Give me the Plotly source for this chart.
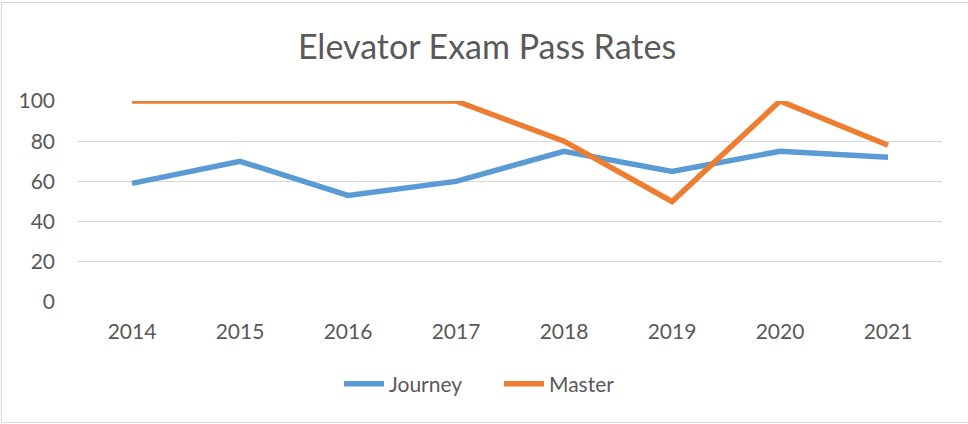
import plotly.graph_objects as go

years = ["2014", "2015", "2016", "2017", "2018", "2019", "2020", "2021"]
journey = [59, 70, 53, 60, 75, 65, 75, 72]
master = [100, 100, 100, 100, 80, 50, 100, 78]
y_ticks = [0, 20, 40, 60, 80, 100]

W, H = 968, 424
L, R, T, B = 78, 26, 101, 122
FONT = "Lato, Calibri, Carlito, sans-serif"
GRAY = "#595959"

fig = go.Figure()
fig.add_trace(go.Scatter(x=years, y=journey, name="Journey", mode="lines",
                         line=dict(color="#5B9BD5", width=5.5),
                         cliponaxis=False))
fig.add_trace(go.Scatter(x=years, y=master, name="Master", mode="lines",
                         line=dict(color="#ED7D31", width=5.5),
                         cliponaxis=False))

pw = W - L - R
ph = H - T - B
def px(x):
    return (x - L) / pw
def py(y):
    return (H - B - y) / ph

fig.update_layout(
    width=W, height=H, autosize=False,
    margin=dict(l=L, r=R, t=T, b=B, autoexpand=False),
    paper_bgcolor="white", plot_bgcolor="white",
    font=dict(family=FONT, color=GRAY, size=21),
    title=dict(text="Elevator Exam Pass Rates", x=487 / W, xanchor="center",
               y=1 - 47 / H, yanchor="middle",
               font=dict(size=34, color=GRAY, family=FONT)),
    showlegend=True,
    legend=dict(orientation="h", x=px(499), xanchor="center",
                y=py(384), yanchor="middle",
                font=dict(size=21, color=GRAY), itemwidth=40,
                entrywidth=105, traceorder="normal"),
    xaxis=dict(type="category", range=[-0.5, 7.5], showgrid=False,
               showline=False, zeroline=False, ticks="", tickangle=0,
               automargin=False,
               tickfont=dict(size=21, color=GRAY), ticklabelstandoff=15),
    yaxis=dict(range=[0, 100], tickvals=y_ticks, showgrid=True,
               gridcolor="#D9D9D9", gridwidth=1, zeroline=False,
               showline=False, ticks="", automargin=False,
               tickfont=dict(size=21, color=GRAY), ticklabelstandoff=22),
    shapes=[
        dict(type="line", xref="paper", yref="paper",
             x0=px(1.5), x1=px(W + 5), y0=py(2.5), y1=py(2.5),
             line=dict(color="#D9D9D9", width=1)),
        dict(type="line", xref="paper", yref="paper",
             x0=px(1.5), x1=px(1.5), y0=py(2.5), y1=py(422.5),
             line=dict(color="#D9D9D9", width=1)),
        dict(type="line", xref="paper", yref="paper",
             x0=px(1.5), x1=px(W + 5), y0=py(422.5), y1=py(422.5),
             line=dict(color="#D9D9D9", width=1)),
    ],
)

fig.write_html("out.html", config={"displayModeBar": False},
               post_script="document.body.style.margin='0';document.body.style.overflow='hidden';")
